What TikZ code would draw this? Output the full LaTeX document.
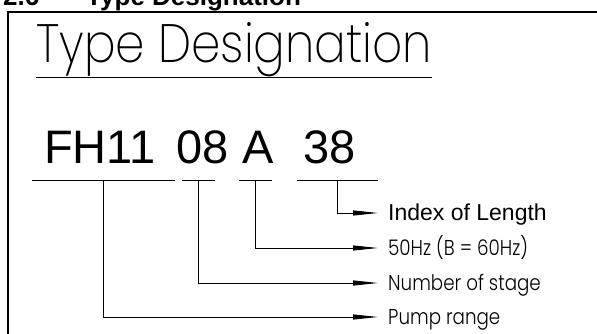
\documentclass[tikz,border=0pt]{standalone}
\usepackage{fontspec}
\setmainfont{Liberation Sans}
\newfontfamily\thinfont{Poppins Light}[FakeStretch=0.85]
\newfontfamily\hairfont{Poppins ExtraLight}[FakeStretch=0.87]
\usetikzlibrary{arrows.meta}

\tikzset{
  code/.style={font=\fontsize{47}{47}\selectfont, inner sep=0pt, anchor=base west},
  head/.style={font=\bfseries\fontsize{26}{26}\selectfont, inner sep=0pt, anchor=base west},
  lbl/.style={inner sep=0pt, anchor=west, text height=15pt, text depth=0pt},
  thinlbl/.style={lbl, font=\thinfont\fontsize{21.5}{21.5}\selectfont},
  lead/.style={line width=0.9pt, -{Triangle[length=25pt,width=5pt]}},
  uline/.style={line width=0.9pt},
}

\begin{document}
\begin{tikzpicture}[x=1pt, y=-1pt]
\useasboundingbox (0,0) rectangle (597,334);
\clip (0,0) rectangle (597,334);

% heading, cut off by the page top
\node[head] (secnum) at (3,6) {2.6};
\node[head] (sechead) at (86,6) {Type Designation};

\draw[line width=1.6pt] (8,400) -- (8,12) -- (650,12);

\node[font=\hairfont\fontsize{54}{54}\selectfont, inner sep=0pt, anchor=base west] (title) at (36,63) {Type Designation};
\draw[uline] ([yshift=-14pt]title.base west) -- ([yshift=-14pt]title.base east);

\node[code] (fh) at (44,164) {FH11};
\node[code] (st) at (176,164) {08};
\node[code] (fr) at (242,164) {A};
\node[code] (ln) at (303,164) {38};

\foreach \nm/\a/\b in {fh/32/175, st/182/215, fr/239/272, ln/297/378}{
    \draw[uline] (\a,180) -- (\b,180);
    \coordinate (\nm-u) at ({(\a+\b)/2},180);
}

\node[lbl, font=\fontsize{23}{23}\selectfont] (lln) at (388,213) {Index of Length};
\node[thinlbl] (lfr) at (388,248) {50Hz (B = 60Hz)};
\node[thinlbl] (lst) at (388,283) {Number of stage};
\node[thinlbl] (lfh) at (388,317) {Pump range};

\foreach \nm in {fh, st, fr, ln}
    \draw[lead, shorten >=10pt] (\nm-u) |- (l\nm.west);

\end{tikzpicture}
\end{document}
